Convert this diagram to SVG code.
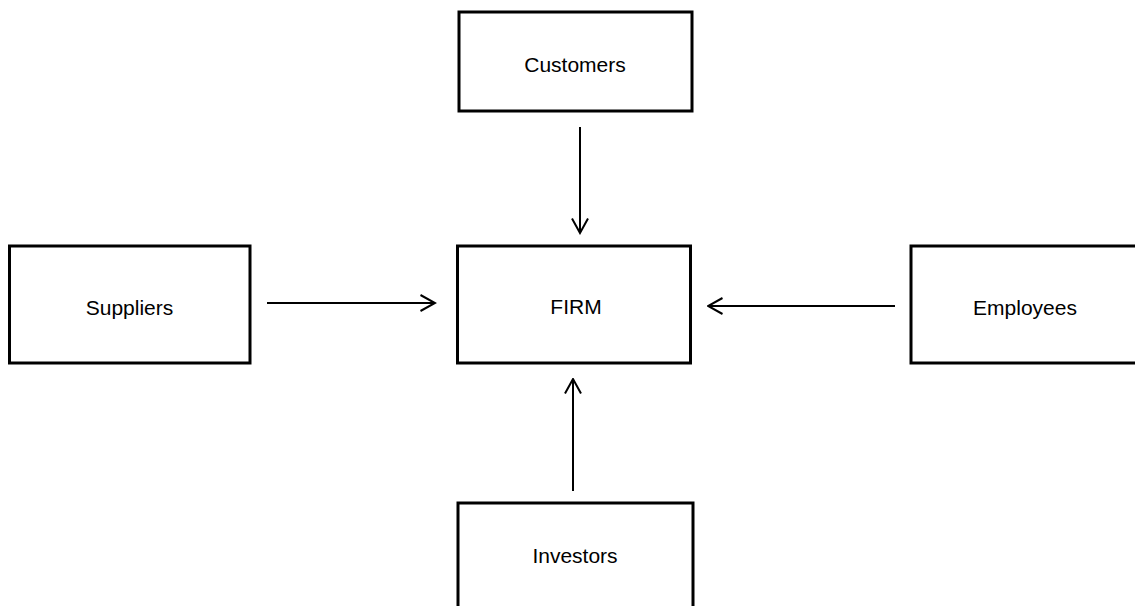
<svg xmlns="http://www.w3.org/2000/svg" width="1135" height="606" viewBox="0 0 1135 606">
  <style>
    .box { fill: #ffffff; stroke: #000000; stroke-width: 3; }
    .label { font-family: "Liberation Sans", Arial, sans-serif; font-size: 21px; fill: #000000; text-anchor: middle; }
    .link { stroke: #000000; stroke-width: 2; fill: none; marker-end: url(#chevron); }
  </style>
  <defs>
    <!-- open chevron arrowhead -->
    <marker id="chevron" markerUnits="userSpaceOnUse" viewBox="0 0 17 18" refX="15.5" refY="9" markerWidth="17" markerHeight="18" orient="auto">
      <path d="M1,1 L15.5,9 L1,17" fill="none" stroke="#000000" stroke-width="2"/>
    </marker>
  </defs>
  <rect width="1135" height="606" fill="#ffffff"/>

  <g id="connectors">
    <line class="link" x1="580" y1="127" x2="580" y2="233"/>
    <line class="link" x1="267" y1="303" x2="435" y2="303"/>
    <line class="link" x1="895" y1="306" x2="708" y2="306"/>
    <line class="link" x1="573" y1="491" x2="573" y2="379"/>
  </g>

  <g id="customers">
    <rect class="box" x="459" y="12" width="233" height="99"/>
    <text class="label" x="575" y="72">Customers</text>
  </g>

  <g id="suppliers">
    <rect class="box" x="9.5" y="246" width="240.5" height="117"/>
    <text class="label" x="129.5" y="315">Suppliers</text>
  </g>

  <g id="firm">
    <rect class="box" x="457.5" y="246" width="233" height="117"/>
    <text class="label" x="576" y="314">FIRM</text>
  </g>

  <g id="employees">
    <rect class="box" x="911" y="246" width="240" height="117"/>
    <text class="label" x="1025" y="315">Employees</text>
  </g>

  <g id="investors">
    <rect class="box" x="458" y="503" width="235" height="120"/>
    <text class="label" x="575" y="563">Investors</text>
  </g>
</svg>
